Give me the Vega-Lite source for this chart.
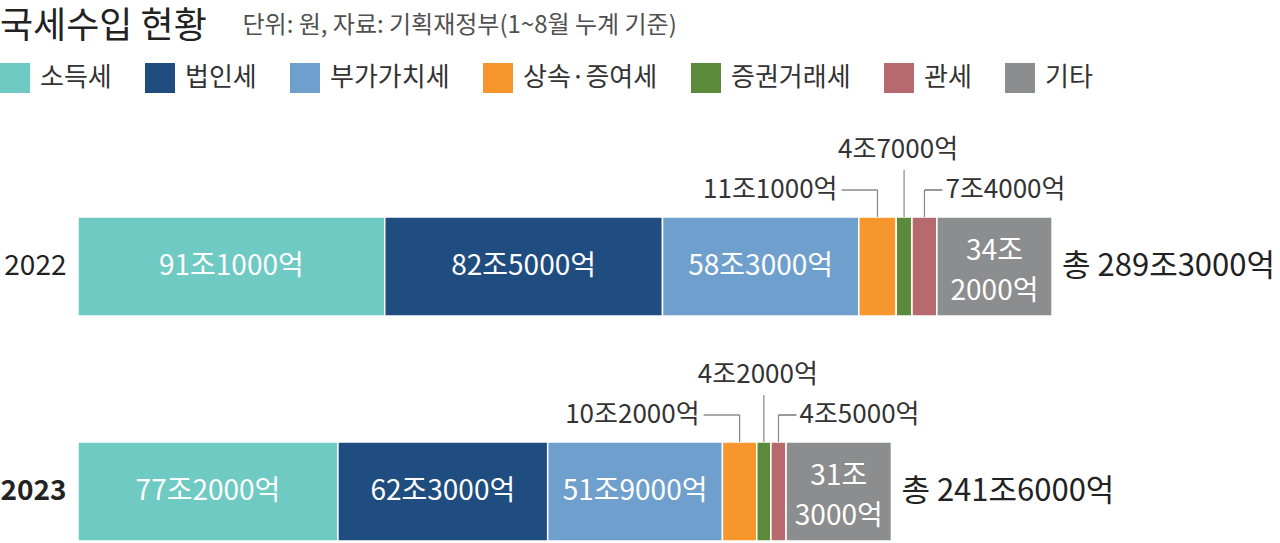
{
  "$schema": "https://vega.github.io/schema/vega-lite/v6.json",
  "width": 1202,
  "height": 498,
  "padding": {"left": 78, "top": 45, "right": 0, "bottom": 0},
  "autosize": {"type": "none"},
  "background": "white",
  "title": {
    "text": "국세수입 현황",
    "anchor": "start",
    "frame": "group",
    "dx": -78,
    "dy": 72,
    "offset": 11,
    "baseline": "alphabetic",
    "fontSize": 36,
    "fontWeight": "normal",
    "color": "#222222",
    "font": "Noto Sans CJK KR"
  },
  "config": {
    "font": "Noto Sans CJK KR",
    "view": {"stroke": null},
    "text": {"font": "Noto Sans CJK KR"}
  },
  "data": {
    "values": [
      {"year": "2022", "type": "소득세", "value": 91.1},
      {"year": "2022", "type": "법인세", "value": 82.5},
      {"year": "2022", "type": "부가가치세", "value": 58.3},
      {"year": "2022", "type": "상속·증여세", "value": 11.1},
      {"year": "2022", "type": "증권거래세", "value": 4.7},
      {"year": "2022", "type": "관세", "value": 7.4},
      {"year": "2022", "type": "기타", "value": 34.2},
      {"year": "2023", "type": "소득세", "value": 77.2},
      {"year": "2023", "type": "법인세", "value": 62.3},
      {"year": "2023", "type": "부가가치세", "value": 51.9},
      {"year": "2023", "type": "상속·증여세", "value": 10.2},
      {"year": "2023", "type": "증권거래세", "value": 4.2},
      {"year": "2023", "type": "관세", "value": 4.5},
      {"year": "2023", "type": "기타", "value": 31.3}
    ]
  },
  "transform": [
    {"calculate": "indexof(['소득세','법인세','부가가치세','상속·증여세','증권거래세','관세','기타'], datum.type)", "as": "ord"},
    {"stack": "value", "groupby": ["year"], "sort": [{"field": "ord", "order": "ascending"}], "as": ["x0", "x1"]},
    {"calculate": "(datum.x0 + datum.x1) / 2", "as": "mid"},
    {"calculate": "round(datum.value * 10)", "as": "v10"},
    {"calculate": "floor(datum.v10 / 10) + (datum.type === '기타' ? '조\\n' : '조') + ((datum.v10 % 10) * 1000) + '억'", "as": "label"},
    {"calculate": "round(datum.x1 * 10)", "as": "t10"},
    {"calculate": "'총 ' + floor(datum.t10 / 10) + '조' + ((datum.t10 % 10) * 1000) + '억'", "as": "total"}
  ],
  "encoding": {
    "y": {
      "field": "year",
      "type": "nominal",
      "scale": {"range": [172, 496], "paddingInner": 0.56, "paddingOuter": 0},
      "axis": {
        "title": "단위: 원, 자료: 기획재정부(1~8월 누계 기준)",
        "titleAngle": 0,
        "titleX": 164,
        "titleY": -13,
        "titleAlign": "left",
        "titleBaseline": "alphabetic",
        "titleFontSize": 24,
        "titleFontWeight": "normal",
        "titleColor": "#505050",
        "titleFont": "Noto Sans CJK KR",
        "domain": false,
        "ticks": false,
        "labelFontSize": 28,
        "labelColor": "#222222",
        "labelPadding": 12,
        "labelFont": "Noto Sans CJK KR",
        "labelFontWeight": {"condition": {"test": "datum.value == '2023'", "value": "bold"}, "value": "normal"}
      }
    }
  },
  "layer": [
    {
      "mark": {"type": "bar", "stroke": "white", "strokeWidth": 1.5},
      "encoding": {
        "x": {
          "field": "x0",
          "type": "quantitative",
          "scale": {"domain": [0, 357], "nice": false, "zero": false},
          "axis": null
        },
        "x2": {"field": "x1"},
        "color": {
          "field": "type",
          "type": "nominal",
          "scale": {
            "domain": ["소득세", "법인세", "부가가치세", "상속·증여세", "증권거래세", "관세", "기타"],
            "range": ["#6ECAC3", "#1F4D80", "#6FA0CD", "#F7962D", "#5A8A3A", "#B76A6E", "#8C8D8F"]
          },
          "legend": {
            "orient": "none",
            "legendX": -78,
            "legendY": 18,
            "direction": "horizontal",
            "title": null,
            "padding": 0,
            "symbolType": "square",
            "symbolSize": 900,
            "symbolStrokeWidth": 0,
            "symbolOpacity": 1,
            "labelFontSize": 26,
            "labelColor": "#333333",
            "labelFont": "Noto Sans CJK KR",
            "labelOffset": 10,
            "columnPadding": 33
          }
        }
      }
    },
    {
      "transform": [{"filter": "datum.value >= 20 && datum.type !== '기타'"}],
      "mark": {"type": "text", "color": "white", "fontSize": 28, "align": "center", "baseline": "middle"},
      "encoding": {
        "x": {"field": "mid", "type": "quantitative", "axis": null},
        "text": {"field": "label"}
      }
    },
    {
      "transform": [{"filter": "datum.type === '기타'"}],
      "mark": {"type": "text", "color": "white", "fontSize": 28, "lineBreak": "\n", "lineHeight": 40, "align": "center", "baseline": "middle", "dy": -15},
      "encoding": {
        "x": {"field": "mid", "type": "quantitative", "axis": null},
        "text": {"field": "label"}
      }
    },
    {
      "transform": [{"filter": "datum.type === '기타'"}],
      "mark": {"type": "text", "color": "#222222", "fontSize": 31, "align": "left", "baseline": "middle", "dx": 10},
      "encoding": {
        "x": {"field": "x1", "type": "quantitative", "axis": null},
        "text": {"field": "total"}
      }
    },
    {
      "transform": [{"filter": "datum.type === '상속·증여세'"}],
      "mark": {"type": "text", "color": "#333333", "fontSize": 26, "align": "right", "baseline": "middle", "dx": -40, "dy": -76.5},
      "encoding": {
        "x": {"field": "mid", "type": "quantitative", "axis": null},
        "text": {"field": "label"}
      }
    },
    {
      "transform": [{"filter": "datum.type === '상속·증여세'"}],
      "mark": {"type": "rule", "color": "#555555", "strokeWidth": 1.2, "xOffset": -36, "yOffset": -76.5},
      "encoding": {
        "x": {"field": "mid", "type": "quantitative", "axis": null},
        "x2": {"field": "mid"}
      }
    },
    {
      "transform": [{"filter": "datum.type === '상속·증여세' || datum.type === '관세'"}],
      "mark": {"type": "tick", "color": "#555555", "thickness": 1.2, "size": 27, "orient": "vertical", "yOffset": -63},
      "encoding": {
        "x": {"field": "mid", "type": "quantitative", "axis": null}
      }
    },
    {
      "transform": [{"filter": "datum.type === '증권거래세'"}],
      "mark": {"type": "text", "color": "#333333", "fontSize": 26, "align": "center", "baseline": "middle", "dx": -6, "dy": -116.5},
      "encoding": {
        "x": {"field": "mid", "type": "quantitative", "axis": null},
        "text": {"field": "label"}
      }
    },
    {
      "transform": [{"filter": "datum.type === '증권거래세'"}],
      "mark": {"type": "tick", "color": "#555555", "thickness": 1.2, "size": 47, "orient": "vertical", "yOffset": -73},
      "encoding": {
        "x": {"field": "mid", "type": "quantitative", "axis": null}
      }
    },
    {
      "transform": [{"filter": "datum.type === '관세'"}],
      "mark": {"type": "rule", "color": "#555555", "strokeWidth": 1.2, "x2Offset": 18, "yOffset": -76.5},
      "encoding": {
        "x": {"field": "mid", "type": "quantitative", "axis": null},
        "x2": {"field": "mid"}
      }
    },
    {
      "transform": [{"filter": "datum.type === '관세'"}],
      "mark": {"type": "text", "color": "#333333", "fontSize": 26, "align": "left", "baseline": "middle", "dx": 21, "dy": -76.5},
      "encoding": {
        "x": {"field": "mid", "type": "quantitative", "axis": null},
        "text": {"field": "label"}
      }
    }
  ]
}
